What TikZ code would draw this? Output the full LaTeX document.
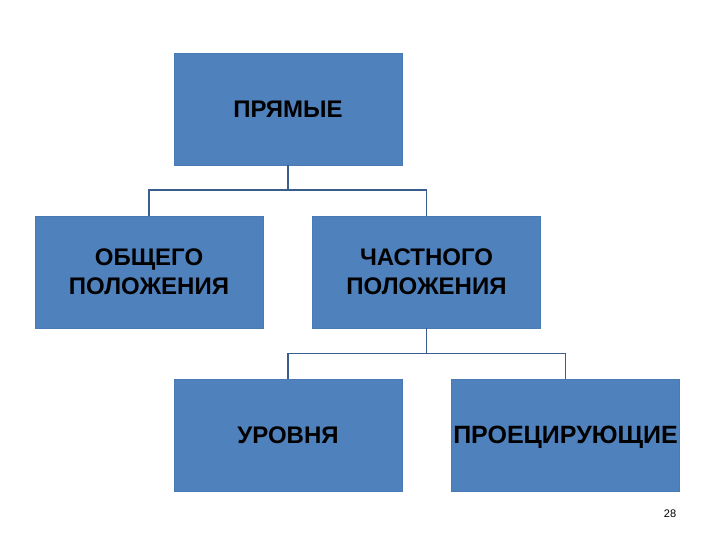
\documentclass[tikz,border=0pt]{standalone}
\usepackage{fontspec}
\setmainfont{Liberation Sans}
\definecolor{boxblue}{HTML}{4F81BD}
\definecolor{boxedge}{HTML}{4A7AB3}
\definecolor{linkblue}{HTML}{3A5E8C}
\begin{document}
\begin{tikzpicture}[x=1pt,y=-1pt,
  kind/.style={rectangle,fill=boxblue,draw=boxedge,line width=0.6pt,
    minimum width=228pt,minimum height=112pt,inner sep=0pt,align=center,
    text depth=0pt,font=\bfseries\fontsize{24}{29}\selectfont},
  link/.style={draw=linkblue,line width=1.6pt}]
  % Page frame
  \useasboundingbox (0,0) rectangle (720,540);

  % Boxes
  \node[kind] (lines) at (288,109) {ПРЯМЫЕ};
  \node[kind] (general) at (149,272) {ОБЩЕГО\\ПОЛОЖЕНИЯ};
  \node[kind] (special) at (426.5,272) {ЧАСТНОГО\\ПОЛОЖЕНИЯ};
  \node[kind] (level) at (288,435) {УРОВНЯ};
  \node[kind] (project) at (565.5,435) {\fontsize{25}{29}\selectfont ПРОЕЦИРУЮЩИЕ};

  % Connectors
  \draw[link] (lines.south) -- ++(0,25) -| (general.north);
  \draw[link] (lines.south) -- ++(0,25) -| (special.north);
  \draw[link] (special.south) -- ++(0,25) -| (level.north);
  \draw[link] (special.south) -- ++(0,25) -| (project.north);

  % Page number
  \node[font=\fontsize{11}{13}\selectfont] (page) at (670,514) {28};
\end{tikzpicture}
\end{document}
